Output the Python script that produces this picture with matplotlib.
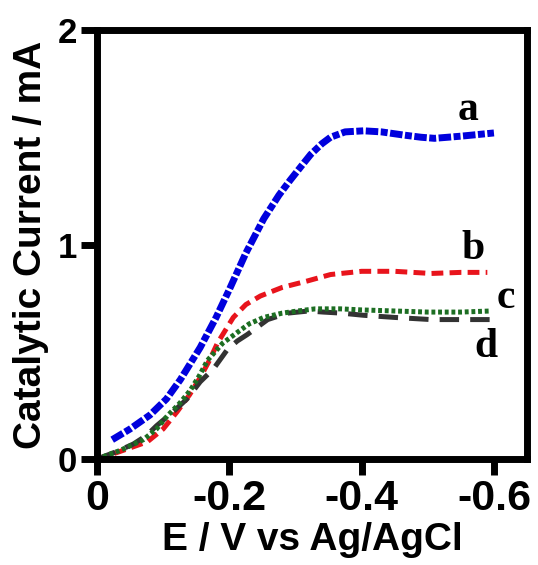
import matplotlib
matplotlib.use("Agg")
import matplotlib.pyplot as plt

# Potential (V vs Ag/AgCl) and catalytic current (mA) for each electrode
E_a = [-0.023, -0.05, -0.08, -0.105, -0.126, -0.156, -0.18, -0.2, -0.225, -0.252, -0.275,
       -0.292, -0.31, -0.323, -0.34, -0.353, -0.375, -0.403, -0.43, -0.464, -0.49,
       -0.51, -0.55, -0.6]
I_a = [0.09, 0.14, 0.205, 0.28, 0.37, 0.52, 0.66, 0.79, 0.96, 1.12, 1.23,
       1.30, 1.37, 1.42, 1.47, 1.50, 1.525, 1.53, 1.525, 1.51, 1.50,
       1.495, 1.505, 1.52]

E_b = [0.0, -0.03, -0.076, -0.1, -0.121, -0.14, -0.156, -0.17, -0.182, -0.206, -0.225,
       -0.247, -0.28, -0.318, -0.353, -0.4, -0.45, -0.505, -0.55, -0.59]
I_b = [0.0, 0.03, 0.08, 0.14, 0.22, 0.30, 0.38, 0.46, 0.54, 0.66, 0.72,
       0.76, 0.80, 0.83, 0.86, 0.875, 0.875, 0.865, 0.87, 0.87]

E_c = [0.0, -0.035, -0.07, -0.09, -0.106, -0.125, -0.141, -0.155, -0.167, -0.19, -0.212,
       -0.23, -0.252, -0.28, -0.303, -0.33, -0.368, -0.4, -0.45, -0.5, -0.55, -0.595]
I_c = [0.0, 0.04, 0.09, 0.14, 0.20, 0.26, 0.32, 0.39, 0.46, 0.54, 0.59,
       0.63, 0.66, 0.68, 0.69, 0.70, 0.70, 0.695, 0.69, 0.685, 0.685, 0.69]

E_d = [0.0, -0.03, -0.055, -0.075, -0.09, -0.115, -0.136, -0.156, -0.176, -0.197, -0.212,
       -0.227, -0.258, -0.288, -0.32, -0.342, -0.37, -0.403, -0.45, -0.505, -0.55, -0.595]
I_d = [0.0, 0.035, 0.07, 0.11, 0.155, 0.22, 0.28, 0.36, 0.42, 0.51, 0.55,
       0.58, 0.65, 0.68, 0.69, 0.685, 0.68, 0.67, 0.66, 0.65, 0.65, 0.65]

curve_labels = ["a", "b", "c", "d"]
x_ticks = [0, -0.2, -0.4, -0.6]
x_tick_labels = ["0", "-0.2", "-0.4", "-0.6"]
y_ticks = [0, 1, 2]

plt.rcParams["lines.scale_dashes"] = False
sans = ["Liberation Sans", "DejaVu Sans"]
serif = ["Liberation Serif", "DejaVu Serif"]

fig = plt.figure(figsize=(5.38, 5.65), dpi=100)
ax = fig.add_axes([0.1803, 0.1876, 0.9796 - 0.1803, 0.9469 - 0.1876])

ax.plot(E_a, I_a, color="#0000dd", lw=5, dashes=(9, 1.8, 5, 1.8),
        dash_capstyle="butt")
ax.plot(E_b, I_b, color="#e8141c", lw=3.6, dashes=(8.5, 4.5),
        dash_capstyle="butt")
ax.plot(E_d, I_d, color="#333333", lw=3.6, dashes=(14, 8),
        dash_capstyle="butt")
ax.plot(E_c, I_c, color="#1c6e22", lw=3.6, dashes=(2.8, 2.0),
        dash_capstyle="butt")

ax.set_xlim(0, -0.65)
ax.set_ylim(0, 2)

ax.set_xticks(x_ticks)
ax.set_xticklabels(x_tick_labels, fontsize=31, fontweight="bold", family=sans)
ax.set_yticks(y_ticks)
ax.set_yticklabels([str(v) for v in y_ticks], fontsize=25, fontweight="bold",
                   family=sans)

for sp in ax.spines.values():
    sp.set_linewidth(5)
ax.tick_params(axis="both", direction="out", length=11.5, width=5, pad=3)

ax.set_xlabel("E / V vs Ag/AgCl", fontsize=28, fontweight="bold", family=sans,
              labelpad=2)
ax.set_ylabel("Catalytic Current / mA", fontsize=28, fontweight="bold",
              family=sans, labelpad=6)

label_pos = [(-0.561, 1.627), (-0.568, 0.98), (-0.618, 0.75), (-0.588, 0.52)]
for lab, (x, y) in zip(curve_labels, label_pos):
    ax.text(x, y, lab, fontsize=30, fontweight="bold", family=serif,
            ha="center", va="center")

fig.savefig("out.png", dpi=100)
